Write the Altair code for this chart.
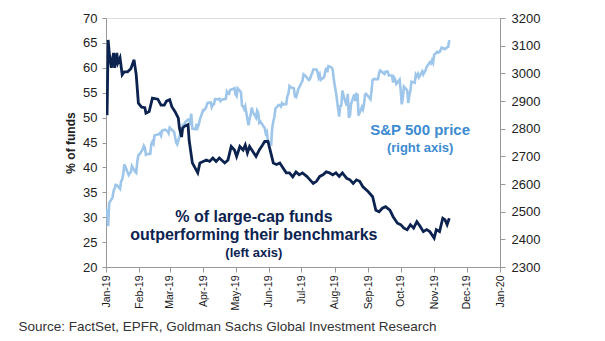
import altair as alt
import pandas as pd

# ---------------- data ----------------
fund_dates = [
    "2019-01-02", "2019-01-03", "2019-01-04", "2019-01-06", "2019-01-08", "2019-01-09", "2019-01-11",
    "2019-01-12", "2019-01-14", "2019-01-16", "2019-01-18", "2019-01-21", "2019-01-24", "2019-01-27",
    "2019-01-29", "2019-01-31", "2019-02-03", "2019-02-06", "2019-02-07", "2019-02-10", "2019-02-13",
    "2019-02-18", "2019-02-21", "2019-02-24", "2019-02-26", "2019-03-01", "2019-03-03", "2019-03-06",
    "2019-03-09", "2019-03-10", "2019-03-12", "2019-03-13", "2019-03-15", "2019-03-18", "2019-03-19",
    "2019-03-22", "2019-03-24", "2019-03-27", "2019-03-29", "2019-04-01", "2019-04-04", "2019-04-07",
    "2019-04-10", "2019-04-13", "2019-04-16", "2019-04-21", "2019-04-24", "2019-04-27", "2019-04-30",
    "2019-05-02", "2019-05-05", "2019-05-08", "2019-05-10", "2019-05-12", "2019-05-14", "2019-05-17",
    "2019-05-20", "2019-05-23", "2019-05-26", "2019-05-28", "2019-05-31", "2019-06-02", "2019-06-05",
    "2019-06-08", "2019-06-11", "2019-06-14", "2019-06-17", "2019-06-20", "2019-06-23", "2019-06-26",
    "2019-06-29", "2019-07-02", "2019-07-06", "2019-07-09", "2019-07-12", "2019-07-15", "2019-07-18",
    "2019-07-21", "2019-07-24", "2019-07-27", "2019-07-30", "2019-08-02", "2019-08-05", "2019-08-08",
    "2019-08-12", "2019-08-15", "2019-08-18", "2019-08-21", "2019-08-24", "2019-08-27", "2019-09-01",
    "2019-09-05", "2019-09-08", "2019-09-11", "2019-09-14", "2019-09-17", "2019-09-21", "2019-09-24",
    "2019-09-28", "2019-10-01", "2019-10-04", "2019-10-07", "2019-10-10", "2019-10-13", "2019-10-16",
    "2019-10-19", "2019-10-22", "2019-10-25", "2019-10-28", "2019-11-01", "2019-11-03", "2019-11-06",
    "2019-11-09", "2019-11-11", "2019-11-13", "2019-11-15",
]
fund_values = [
    50.5, 65.6, 63.0, 60.0, 63.0, 60.0, 63.0,
    61.0, 62.0, 58.6, 59.2, 59.2, 59.8, 61.6,
    58.6, 52.9, 52.1, 52.0, 50.9, 51.2, 53.9,
    53.7, 52.5, 52.5, 53.3, 53.6, 52.2, 51.2,
    49.9, 47.9, 46.1, 47.9, 48.3, 48.6, 45.5,
    40.9, 40.1, 38.9, 40.9, 41.2, 41.5, 41.2,
    41.9, 41.2, 41.9, 40.9, 41.5, 44.2, 43.5,
    42.2, 44.2, 43.5, 44.5, 42.9, 44.2, 43.2,
    42.2, 43.5, 44.5, 45.2, 45.2, 43.5, 40.9,
    40.6, 40.9, 39.9, 38.9, 38.9, 38.1, 39.1,
    38.5, 38.9, 38.2, 37.5, 36.8, 37.2, 38.2,
    38.5, 39.1, 38.9, 38.5, 38.9, 38.2, 38.9,
    37.8, 37.5, 36.8, 37.5, 37.2, 36.1, 35.1,
    34.1, 31.4, 31.1, 31.8, 32.1, 31.4, 30.1,
    28.8, 28.5, 27.8, 27.5, 28.5, 27.8, 29.1,
    28.2, 27.1, 27.5, 27.1, 25.8, 27.5, 27.1,
    29.8, 29.5, 28.5, 29.8,
]

spx_dates = [
    "2019-01-02", "2019-01-03", "2019-01-04", "2019-01-07", "2019-01-08", "2019-01-09", "2019-01-10",
    "2019-01-11", "2019-01-14", "2019-01-15", "2019-01-16", "2019-01-17", "2019-01-18", "2019-01-22",
    "2019-01-23", "2019-01-24", "2019-01-25", "2019-01-28", "2019-01-29", "2019-01-30", "2019-01-31",
    "2019-02-01", "2019-02-04", "2019-02-05", "2019-02-06", "2019-02-07", "2019-02-08", "2019-02-11",
    "2019-02-12", "2019-02-13", "2019-02-14", "2019-02-15", "2019-02-19", "2019-02-20", "2019-02-21",
    "2019-02-22", "2019-02-25", "2019-02-26", "2019-02-27", "2019-02-28", "2019-03-01", "2019-03-04",
    "2019-03-05", "2019-03-06", "2019-03-07", "2019-03-08", "2019-03-11", "2019-03-12", "2019-03-13",
    "2019-03-14", "2019-03-15", "2019-03-18", "2019-03-19", "2019-03-20", "2019-03-21", "2019-03-22",
    "2019-03-25", "2019-03-26", "2019-03-27", "2019-03-28", "2019-03-29", "2019-04-01", "2019-04-02",
    "2019-04-03", "2019-04-04", "2019-04-05", "2019-04-08", "2019-04-09", "2019-04-10", "2019-04-11",
    "2019-04-12", "2019-04-15", "2019-04-16", "2019-04-17", "2019-04-18", "2019-04-22", "2019-04-23",
    "2019-04-24", "2019-04-25", "2019-04-26", "2019-04-29", "2019-04-30", "2019-05-01", "2019-05-02",
    "2019-05-03", "2019-05-06", "2019-05-07", "2019-05-08", "2019-05-09", "2019-05-10", "2019-05-13",
    "2019-05-14", "2019-05-15", "2019-05-16", "2019-05-17", "2019-05-20", "2019-05-21", "2019-05-22",
    "2019-05-23", "2019-05-24", "2019-05-28", "2019-05-29", "2019-05-30", "2019-05-31", "2019-06-03",
    "2019-06-04", "2019-06-05", "2019-06-06", "2019-06-07", "2019-06-10", "2019-06-11", "2019-06-12",
    "2019-06-13", "2019-06-14", "2019-06-17", "2019-06-18", "2019-06-19", "2019-06-20", "2019-06-21",
    "2019-06-24", "2019-06-25", "2019-06-26", "2019-06-27", "2019-06-28", "2019-07-01", "2019-07-02",
    "2019-07-03", "2019-07-05", "2019-07-08", "2019-07-09", "2019-07-10", "2019-07-11", "2019-07-12",
    "2019-07-15", "2019-07-16", "2019-07-17", "2019-07-18", "2019-07-19", "2019-07-22", "2019-07-23",
    "2019-07-24", "2019-07-25", "2019-07-26", "2019-07-29", "2019-07-30", "2019-07-31", "2019-08-01",
    "2019-08-02", "2019-08-05", "2019-08-06", "2019-08-07", "2019-08-08", "2019-08-09", "2019-08-12",
    "2019-08-13", "2019-08-14", "2019-08-15", "2019-08-16", "2019-08-19", "2019-08-20", "2019-08-21",
    "2019-08-22", "2019-08-23", "2019-08-26", "2019-08-27", "2019-08-28", "2019-08-29", "2019-08-30",
    "2019-09-03", "2019-09-04", "2019-09-05", "2019-09-06", "2019-09-09", "2019-09-10", "2019-09-11",
    "2019-09-12", "2019-09-13", "2019-09-16", "2019-09-17", "2019-09-18", "2019-09-19", "2019-09-20",
    "2019-09-23", "2019-09-24", "2019-09-25", "2019-09-26", "2019-09-27", "2019-09-30", "2019-10-01",
    "2019-10-02", "2019-10-03", "2019-10-04", "2019-10-07", "2019-10-08", "2019-10-09", "2019-10-10",
    "2019-10-11", "2019-10-14", "2019-10-15", "2019-10-16", "2019-10-17", "2019-10-18", "2019-10-21",
    "2019-10-22", "2019-10-23", "2019-10-24", "2019-10-25", "2019-10-28", "2019-10-29", "2019-10-30",
    "2019-10-31", "2019-11-01", "2019-11-04", "2019-11-05", "2019-11-06", "2019-11-07", "2019-11-08",
    "2019-11-11", "2019-11-12", "2019-11-13", "2019-11-14", "2019-11-15",
]
spx_values = [
    2510, 2448, 2532, 2550, 2574, 2585, 2597,
    2596, 2583, 2610, 2616, 2636, 2671, 2633,
    2639, 2643, 2665, 2644, 2640, 2681, 2704,
    2707, 2725, 2738, 2731, 2706, 2708, 2709,
    2744, 2753, 2746, 2776, 2780, 2784, 2775,
    2793, 2796, 2793, 2792, 2784, 2804, 2792,
    2789, 2771, 2749, 2743, 2784, 2792, 2811,
    2808, 2822, 2833, 2832, 2824, 2854, 2800,
    2798, 2818, 2805, 2815, 2834, 2867, 2867,
    2873, 2879, 2893, 2895, 2878, 2888, 2888,
    2907, 2906, 2908, 2900, 2905, 2908, 2934,
    2927, 2926, 2940, 2944, 2946, 2924, 2918,
    2946, 2932, 2884, 2880, 2871, 2881, 2812,
    2835, 2850, 2876, 2860, 2840, 2865, 2857,
    2822, 2826, 2802, 2783, 2789, 2752, 2744,
    2803, 2826, 2843, 2873, 2886, 2885, 2880,
    2892, 2887, 2889, 2918, 2926, 2954, 2950,
    2946, 2917, 2914, 2924, 2942, 2965, 2973,
    2996, 2990, 2976, 2980, 2993, 3000, 3014,
    3014, 3004, 2985, 2995, 2977, 2986, 3005,
    3020, 3004, 3026, 3021, 3013, 2980, 2954,
    2932, 2844, 2882, 2884, 2938, 2919, 2883,
    2926, 2840, 2848, 2889, 2924, 2900, 2925,
    2923, 2847, 2878, 2869, 2888, 2924, 2926,
    2906, 2938, 2976, 2979, 2979, 2979, 3001,
    3010, 3007, 2998, 3006, 3006, 3006, 2992,
    2992, 2967, 2984, 2977, 2962, 2977, 2940,
    2888, 2910, 2952, 2939, 2893, 2919, 2938,
    2970, 2966, 2996, 2990, 2998, 2986, 3007,
    2996, 3004, 3010, 3023, 3040, 3036, 3047,
    3038, 3067, 3078, 3075, 3077, 3085, 3093,
    3087, 3091, 3094, 3096, 3120,
]

ann_text = ["% of large-cap funds", "outperforming their benchmarks", "(left axis)",
            "S&P 500 price", "(right axis)"]
ann_date = ["2019-05-18", "2019-05-18", "2019-05-18", "2019-10-19", "2019-10-19"]
ann_value = [30.0, 26.4, 22.9, 47.6, 43.9]   # in left-axis units
ann_style = ["navy_big", "navy_big", "navy_small", "blue_big", "blue_small"]

source_text = "Source: FactSet, EPFR, Goldman Sachs Global Investment Research"

# ---------------- styles ----------------
NAVY = "#0c2350"
LIGHT = "#9dc6ea"
BLUE = "#3d8bd0"
FONT = "Liberation Sans"

fund_df = pd.DataFrame({"date": fund_dates, "value": fund_values})
spx_df = pd.DataFrame({"date": spx_dates, "value": spx_values})
ann_df = pd.DataFrame({"date": ann_date, "value": ann_value, "text": ann_text, "style": ann_style})

x_scale = alt.Scale(
    type="utc",
    domain=[alt.DateTime(year=2019, month=1, date=1, utc=True),
            alt.DateTime(year=2020, month=1, date=1, utc=True)],
)
x_axis = alt.Axis(
    tickCount={"interval": "month", "step": 1},
    format="%b-%y", labelAngle=270, labelAlign="right", labelBaseline="middle",
    labelFontSize=10.5, labelFont=FONT, labelColor="#1a1a1a", labelPadding=3,
    labelOverlap=False, labelBound=False, labelFlush=False,
    tickSize=5, tickColor="#999999", domainColor="#999999", grid=False, title=None,
)
x_enc = alt.X("date:T", scale=x_scale, axis=x_axis)

left_scale = alt.Scale(domain=[20, 70], nice=False, zero=False)
right_scale = alt.Scale(domain=[2300, 3200], nice=False, zero=False)

spx_line = alt.Chart(spx_df).mark_line(color=LIGHT, strokeWidth=2.6, clip=True).encode(
    x=x_enc,
    y=alt.Y("value:Q", scale=right_scale,
            axis=alt.Axis(orient="right", values=list(range(2300, 3201, 100)), format="d",
                          grid=False, title=None, labelFontSize=13, labelFont=FONT,
                          labelColor="#222222", labelOverlap=False,
                          tickSize=5, tickColor="#999999", domainColor="#999999", labelPadding=6)),
)

fund_line = alt.Chart(fund_df).mark_line(color=NAVY, strokeWidth=2.8, clip=True).encode(
    x=x_enc,
    y=alt.Y("value:Q", scale=left_scale,
            axis=alt.Axis(orient="left", values=list(range(20, 71, 5)), format="d", grid=False,
                          title="% of funds", titleFont=FONT, titleFontSize=12,
                          titleFontWeight="bold", titleColor="#222222", titlePadding=5,
                          labelFontSize=13, labelFont=FONT, labelColor="#222222",
                          labelOverlap=False,
                          tickSize=4, tickColor="#999999", domainColor="#999999", labelPadding=5)),
)


def ann_layer(style, size, color):
    return alt.Chart(ann_df).transform_filter(alt.datum.style == style).mark_text(
        font=FONT, fontSize=size, fontWeight="bold", color=color, align="center", baseline="middle"
    ).encode(
        x=alt.X("date:T", scale=x_scale),
        y=alt.Y("value:Q", scale=left_scale, axis=None),
        text="text:N",
    )


chart = alt.layer(
    spx_line,
    fund_line,
    ann_layer("navy_big", 16, NAVY),
    ann_layer("navy_small", 13, NAVY),
    ann_layer("blue_big", 15, BLUE),
    ann_layer("blue_small", 13, BLUE),
).resolve_scale(y="independent").properties(
    width=394, height=249,
    autosize=alt.AutoSizeParams(type="none"),
    padding={"left": 106, "top": 18, "right": 105, "bottom": 74},
    title=alt.TitleParams(text=source_text, orient="bottom", anchor="start", dx=-46, offset=10,
                          font=FONT, fontSize=13.5, fontWeight="normal", color="#333333"),
).configure_view(stroke="#666666", strokeWidth=1).configure(background="white")

chart.save("out.html", embed_options={"renderer": "svg", "actions": False})
